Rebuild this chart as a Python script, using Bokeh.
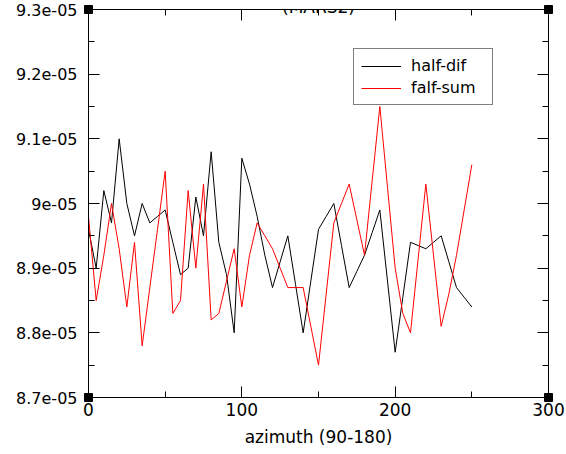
from bokeh.plotting import figure
from bokeh.models import Range1d, LinearAxis, FixedTicker, Legend, LegendItem, Label
from bokeh.embed import file_html
from bokeh.resources import INLINE

title_text = "(MARS2)"
x_label = "azimuth (90-180)"

azimuth = [0, 5, 10, 15, 20, 25, 30, 35, 40, 45, 50, 55, 60, 65, 70, 75, 80, 85, 90, 95,
           100, 105, 110, 115, 120, 125, 130, 135, 140, 145, 150, 155, 160, 165, 170, 175,
           180, 185, 190, 195, 200, 205, 210, 215, 220, 225, 230, 235, 240, 245, 250]

half_dif = [8.96e-05, 8.90e-05, 9.02e-05, 8.97e-05, 9.10e-05, 9.00e-05, 8.95e-05, 9.00e-05,
            8.97e-05, 8.98e-05, 8.99e-05, 8.94e-05, 8.89e-05, 8.90e-05, 9.01e-05, 8.95e-05,
            9.08e-05, 8.94e-05, 8.89e-05, 8.80e-05, 9.07e-05, 9.03e-05, 8.98e-05, 8.92e-05,
            8.87e-05, 8.91e-05, 8.95e-05, 8.875e-05, 8.80e-05, 8.88e-05, 8.96e-05, 8.98e-05,
            9.00e-05, 8.935e-05, 8.87e-05, 8.895e-05, 8.92e-05, 8.955e-05, 8.99e-05, 8.88e-05,
            8.77e-05, 8.855e-05, 8.94e-05, 8.935e-05, 8.93e-05, 8.94e-05, 8.95e-05, 8.91e-05,
            8.87e-05, 8.855e-05, 8.84e-05]

falf_sum = [8.98e-05, 8.85e-05, 8.92e-05, 9.00e-05, 8.93e-05, 8.84e-05, 8.94e-05, 8.78e-05,
            8.87e-05, 8.96e-05, 9.05e-05, 8.83e-05, 8.85e-05, 9.02e-05, 8.90e-05, 9.03e-05,
            8.82e-05, 8.83e-05, 8.88e-05, 8.93e-05, 8.84e-05, 8.92e-05, 8.97e-05, 8.95e-05,
            8.93e-05, 8.90e-05, 8.87e-05, 8.87e-05, 8.87e-05, 8.81e-05, 8.75e-05, 8.86e-05,
            8.97e-05, 9.00e-05, 9.03e-05, 8.975e-05, 8.92e-05, 9.035e-05, 9.15e-05, 9.025e-05,
            8.90e-05, 8.83e-05, 8.80e-05, 8.915e-05, 9.03e-05, 8.92e-05, 8.81e-05, 8.86e-05,
            8.92e-05, 8.99e-05, 9.06e-05]

x_ticks = [0, 100, 200, 300]
x_minor = [50, 150, 250]
y_ticks = [8.7e-05, 8.8e-05, 8.9e-05, 9e-05, 9.1e-05, 9.2e-05, 9.3e-05]
y_minor = [8.75e-05, 8.85e-05, 8.95e-05, 9.05e-05, 9.15e-05, 9.25e-05]

x_lo, x_hi = 0, 300
y_lo, y_hi = 8.7e-05, 9.3e-05

FONT = "DejaVu Sans"

p = figure(width=566, height=470, output_backend="svg", toolbar_location=None,
           x_range=Range1d(x_lo, x_hi), y_range=Range1d(y_lo, y_hi),
           min_border_left=88, min_border_right=18, min_border_top=29,
           min_border_bottom=53, x_axis_type=None, y_axis_type=None)
p.styles = {"margin-top": "-20px"}
p.grid.visible = False
p.outline_line_color = "black"
p.background_fill_color = "white"
p.border_fill_color = "white"


def style_axis(ax, ticks, minor, labels=True, size="17px"):
    ax.ticker = FixedTicker(ticks=ticks, minor_ticks=minor)
    ax.axis_line_color = "black"
    ax.major_tick_line_color = "black"
    ax.minor_tick_line_color = "black"
    ax.major_tick_in = 11
    ax.major_tick_out = 0
    ax.minor_tick_in = 6
    ax.minor_tick_out = 0
    ax.major_label_text_font = FONT
    if labels:
        ax.major_label_text_font_size = size
        ax.major_label_text_color = "black"
    else:
        ax.major_label_text_font_size = "1px"
        ax.major_label_text_color = None
        ax.major_label_standoff = 0


xb = LinearAxis()
style_axis(xb, x_ticks, x_minor)
xb.major_label_standoff = 5
xb.axis_label = x_label
xb.axis_label_text_font = FONT
xb.axis_label_text_font_size = "17px"
xb.axis_label_text_font_style = "normal"
xb.axis_label_text_color = "black"
xb.axis_label_standoff = 8
p.add_layout(xb, "below")

yl = LinearAxis()
style_axis(yl, y_ticks, y_minor, size="16px")
yl.major_label_standoff = 11
yl.major_label_overrides = {t: f"{t:g}" for t in y_ticks}
p.add_layout(yl, "left")

xt = LinearAxis()
style_axis(xt, x_ticks, x_minor, labels=False)
p.add_layout(xt, "above")

yr = LinearAxis()
style_axis(yr, y_ticks, y_minor, labels=False)
p.add_layout(yr, "right")

r_dif = p.line(azimuth, half_dif, line_color="black", line_width=1)
r_sum = p.line(azimuth, falf_sum, line_color="#ff0000", line_width=1)

p.scatter([x_lo, x_hi, x_lo, x_hi], [y_lo, y_lo, y_hi, y_hi], marker="square",
          size=8, color="black", level="overlay")

p.add_layout(Label(x=(x_lo + x_hi) / 2, y=y_hi, text=title_text, text_align="center",
                   text_baseline="alphabetic", y_offset=3, text_font=FONT,
                   text_font_size="17px", text_color="black"))

legend = Legend(items=[LegendItem(label="half-dif", renderers=[r_dif]),
                       LegendItem(label="falf-sum", renderers=[r_sum])],
                location=(265, 292), padding=7, spacing=3, glyph_width=40,
                glyph_height=18, label_height=18, label_width=74, label_standoff=10,
                margin=0, border_line_color="black", border_line_width=1,
                background_fill_color="white", background_fill_alpha=1,
                label_text_font=FONT, label_text_font_size="16px",
                label_text_color="black")
p.add_layout(legend, "center")

open("out.html", "w").write(file_html(p, INLINE))
